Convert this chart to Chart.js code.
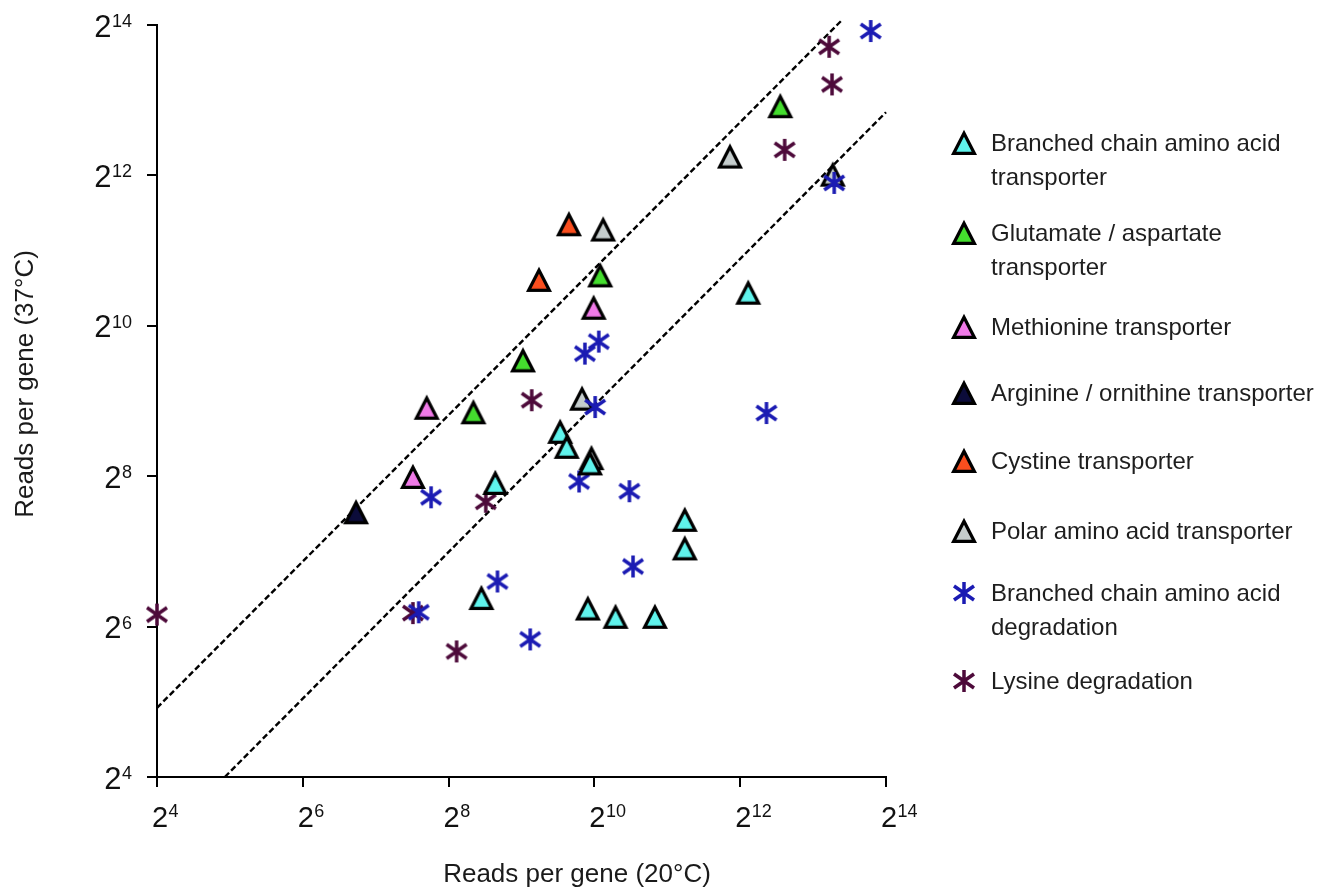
<!DOCTYPE html>
<html>
<head>
<meta charset="utf-8">
<script src="https://cdn.jsdelivr.net/npm/chart.js@4.4.1/dist/chart.umd.min.js"></script>
<style>
  html, body { margin: 0; padding: 0; background: #fff; }
  body { width: 1332px; height: 890px; position: relative; overflow: hidden;
         font-family: "Liberation Sans", Arial, sans-serif; }
  #chart { position: absolute; left: 0; top: 0; }
  #legend { position: absolute; left: 0; top: 0; width: 1332px; height: 890px; pointer-events: none; }
  .item { position: absolute; left: 950px; width: 380px; height: 80px; }
  .item canvas { position: absolute; left: 0; }
  .item .txt { position: absolute; left: 41px; top: 0; width: 335px; font-size: 24px;
               line-height: 34px; color: #1e1e1e; white-space: normal; }
</style>
</head>
<body>
<canvas id="chart" width="940" height="890"></canvas>
<div id="legend"></div>
<script>
// ---- Data (values are log2 of reads per gene) ----
const seriesNames = [
  'Branched chain amino acid transporter',
  'Glutamate / aspartate transporter',
  'Methionine transporter',
  'Arginine / ornithine transporter',
  'Cystine transporter',
  'Polar amino acid transporter',
  'Branched chain amino acid degradation',
  'Lysine degradation'
];
const tickExponents = [4, 6, 8, 10, 12, 14];
const xAxisTitle = 'Reads per gene (20°C)';
const yAxisTitle = 'Reads per gene (37°C)';

const bcaaTransX = [12.11, 9.53, 9.62, 9.94, 8.64, 11.24, 11.24, 8.45, 9.91, 10.29, 10.83];
const bcaaTransY = [10.44, 8.59, 8.39, 8.17, 7.91, 7.42, 7.04, 6.38, 6.24, 6.13, 6.13];
const gluAspX = [12.55, 10.08, 9.02, 8.34];
const gluAspY = [12.92, 10.67, 9.54, 8.85];
const metX = [9.99, 7.70, 7.51];
const metY = [10.24, 8.91, 7.99];
const argOrnX = [6.73];
const argOrnY = [7.52];
const cysX = [9.65, 9.24];
const cysY = [11.35, 10.61];
const polarX = [11.86, 13.27, 10.12, 9.83, 9.96];
const polarY = [12.25, 12.01, 11.28, 9.03, 8.24];
const bcaaDegX = [13.79, 13.29, 10.06, 9.87, 10.01, 12.36, 9.79, 10.48, 7.76, 10.53, 8.67, 7.59, 9.12];
const bcaaDegY = [13.92, 11.90, 9.79, 9.63, 8.92, 8.84, 7.93, 7.80, 7.72, 6.80, 6.60, 6.19, 5.83];
const lysX = [13.22, 13.26, 12.61, 9.14, 8.51, 4.00, 7.51, 8.11];
const lysY = [13.71, 13.21, 12.34, 9.01, 7.66, 6.16, 6.18, 5.67];
const upperLineX = [4.00, 13.38];
const upperLineY = [4.92, 14.05];
const lowerLineX = [4.93, 14.00];
const lowerLineY = [4.00, 12.84];

// ---- Styling ----
const FONT = '"Liberation Sans", Arial, sans-serif';
const colors = ['#5ff3ec', '#44dd2e', '#f07ae8', '#0c0c3a', '#fa4e1e', '#c5cdcd', '#1b1bb3', '#4d0a3a'];
const kinds  = ['tri', 'tri', 'tri', 'tri', 'tri', 'tri', 'ast', 'ast'];

function triangle(fill) {
  const c = document.createElement('canvas');
  c.width = 34; c.height = 34;
  const g = c.getContext('2d');
  const cx = 17, apexY = 7.2, baseY = 27.4, hw = 10.4;
  g.beginPath();
  g.moveTo(cx, apexY);
  g.lineTo(cx + hw, baseY);
  g.lineTo(cx - hw, baseY);
  g.closePath();
  g.fillStyle = fill; g.fill();
  g.lineWidth = 3.2; g.lineJoin = 'miter'; g.miterLimit = 3; g.strokeStyle = '#000'; g.stroke();
  return c;
}
function asterisk(color) {
  const c = document.createElement('canvas');
  c.width = 28; c.height = 28;
  const g = c.getContext('2d');
  const cx = 14, cy = 14;
  g.strokeStyle = color; g.lineWidth = 3.5; g.lineCap = 'butt';
  g.beginPath();
  g.moveTo(cx, cy - 11); g.lineTo(cx, cy + 11);
  g.moveTo(cx - 10, cy - 7); g.lineTo(cx + 10, cy + 7);
  g.moveTo(cx - 10, cy + 7); g.lineTo(cx + 10, cy - 7);
  g.stroke();
  return c;
}
const markers = colors.map((col, i) => kinds[i] === 'tri' ? triangle(col) : asterisk(col));

const pts = (xs, ys) => xs.map((x, i) => ({ x: x, y: ys[i] }));
const seriesX = [bcaaTransX, gluAspX, metX, argOrnX, cysX, polarX, bcaaDegX, lysX];
const seriesY = [bcaaTransY, gluAspY, metY, argOrnY, cysY, polarY, bcaaDegY, lysY];
const drawOrder = [1, 2, 3, 4, 5, 8, 6, 7];

const datasets = seriesNames.map((name, i) => ({
  label: name,
  data: pts(seriesX[i], seriesY[i]),
  pointStyle: markers[i],
  pointRadius: 12,
  showLine: false,
  clip: false,
  order: drawOrder[i],
  isSeries: true
}));
[[upperLineX, upperLineY], [lowerLineX, lowerLineY]].forEach(([xs, ys]) => {
  datasets.push({
    label: '',
    data: pts(xs, ys),
    showLine: true,
    borderColor: '#000',
    borderWidth: 2.4,
    borderDash: [6, 3],
    pointRadius: 0,
    fill: false,
    clip: false,
    order: 50,
    isSeries: false
  });
});

// Axis titles and power-of-two tick labels (2 with raised exponent)
const axisText = {
  id: 'axisText',
  afterDraw(chart) {
    const { ctx, chartArea } = chart;
    const xs = chart.scales.x, ys = chart.scales.y;
    ctx.save();
    ctx.fillStyle = '#111';
    ctx.textBaseline = 'alphabetic';
    xs.ticks.forEach(t => {
      const px = xs.getPixelForValue(t.value);
      const base = String(2), exp = String(t.value);
      ctx.font = '29px ' + FONT;
      ctx.textAlign = 'center';
      const bw = ctx.measureText(base).width;
      ctx.fillText(base, px + 3, chartArea.bottom + 50);
      ctx.font = '18px ' + FONT;
      ctx.textAlign = 'left';
      ctx.fillText(exp, px + 3 + bw / 2 + 0.5, chartArea.bottom + 40);
    });
    ys.ticks.forEach(t => {
      const py = ys.getPixelForValue(t.value);
      const base = String(2), exp = String(t.value);
      ctx.font = '18px ' + FONT;
      ctx.textAlign = 'right';
      const ew = ctx.measureText(exp).width;
      const right = chartArea.left - 25;
      ctx.fillText(exp, right, py + 2);
      ctx.font = '31px ' + FONT;
      ctx.fillText(base, right - ew - 0.5, py + 11.5);
    });
    ctx.font = '26px ' + FONT;
    ctx.fillStyle = '#1a1a1a';
    ctx.textAlign = 'center';
    ctx.fillText(xAxisTitle, chartArea.left + 420, chartArea.bottom + 105);
    ctx.translate(33, chartArea.top + 359);
    ctx.rotate(-Math.PI / 2);
    ctx.fillText(yAxisTitle, 0, 0);
    ctx.restore();
  }
};

const axisCommon = {
  type: 'linear',
  min: 4, max: 14,
  afterBuildTicks: s => { s.ticks = tickExponents.map(v => ({ value: v })); },
  grid: { display: true, drawOnChartArea: false, drawTicks: true, tickLength: 10, color: '#000', lineWidth: 2 },
  border: { display: true, color: '#000', width: 2 }
};

const chart = new Chart(document.getElementById('chart'), {
  type: 'scatter',
  data: { datasets: datasets },
  options: {
    responsive: false,
    animation: false,
    events: [],
    layout: { padding: { left: 0, right: 54, top: 25, bottom: 0 } },
    plugins: { legend: { display: false }, tooltip: { enabled: false } },
    scales: {
      x: Object.assign({}, axisCommon, {
        afterFit: s => { s.height = 113; },
        ticks: { callback: v => '2^' + v, color: 'rgba(0,0,0,0)', font: { size: 20, family: FONT },
                 maxRotation: 0, autoSkip: false }
      }),
      y: Object.assign({}, axisCommon, {
        afterFit: s => { s.width = 157; },
        ticks: { callback: v => '2^' + v, color: 'rgba(0,0,0,0)', font: { size: 20, family: FONT },
                 autoSkip: false }
      })
    }
  },
  plugins: [axisText]
});

// ---- HTML legend built from the chart's datasets ----
const legendLineCenters = [143, 233, 327, 393, 461, 531, 593, 681];
const legendEl = document.getElementById('legend');
chart.data.datasets.filter(d => d.isSeries).forEach((d, i) => {
  const item = document.createElement('div');
  item.className = 'item';
  const cy = legendLineCenters[i];
  item.style.top = (cy - 17) + 'px';
  const m = d.pointStyle;
  const c = document.createElement('canvas');
  c.width = m.width; c.height = m.height;
  c.getContext('2d').drawImage(m, 0, 0);
  c.style.left = (14 - m.width / 2) + 'px';
  c.style.top = (17 - m.height / 2) + 'px';
  const t = document.createElement('div');
  t.className = 'txt';
  t.textContent = d.label;
  item.appendChild(c);
  item.appendChild(t);
  legendEl.appendChild(item);
});
</script>
</body>
</html>
